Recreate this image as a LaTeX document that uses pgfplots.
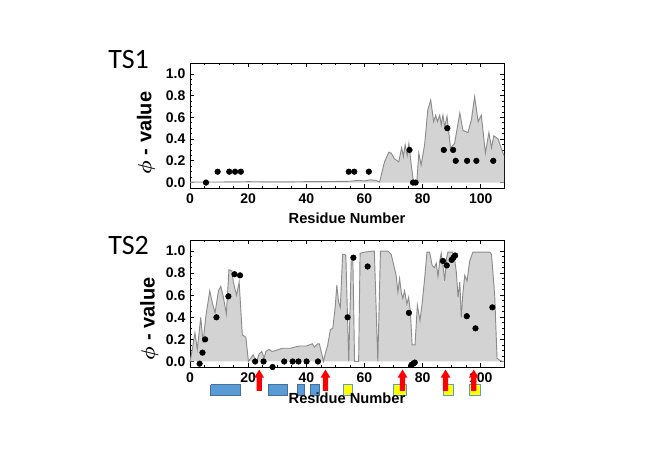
\documentclass[border=0pt]{standalone}
\usepackage{fontspec}
\setmainfont{Liberation Sans}
\newfontfamily\calibri{Carlito}
\usepackage{amsmath}
\usepackage{pgfplots}
\usepackage{pgfplotstable}
\pgfplotsset{compat=1.18}

\definecolor{fillgray}{RGB}{211,211,211}
\definecolor{linegray}{RGB}{140,140,140}
\definecolor{boxblue}{RGB}{91,155,213}
\definecolor{boxblueedge}{RGB}{65,113,156}
\definecolor{ylw}{RGB}{255,255,0}
\definecolor{arrowred}{RGB}{255,0,0}

\pgfplotstableread{
x y
0 0.005
10 0.005
20 0.008
30 0.006
40 0.008
50 0.010
55 0.012
58 0.020
60 0.015
62 0.025
64 0.020
65.2 0.005
66.9 0.19
68.4 0.28
69.2 0.27
70.3 0.22
71.8 0.19
72.8 0.32
73.4 0.24
74.0 0.35
74.7 0.25
75.3 0.36
76.1 0.16
76.9 0.0
78.0 0.0
78.7 0.27
79.5 0.16
80.7 0.35
81.8 0.67
82.8 0.76
83.8 0.56
84.5 0.62
85.1 0.56
85.9 0.62
86.4 0.53
87.0 0.62
87.6 0.51
88.4 0.61
89.6 0.32
91.0 0.36
92.8 0.64
93.9 0.48
95.6 0.46
96.8 0.58
97.9 0.79
99.1 0.56
100.2 0.62
101.6 0.27
102.8 0.46
103.7 0.32
104.5 0.43
106.0 0.40
107.5 0.28
108 0.25
}\tsonearea

\pgfplotstableread{
x y
5.5 0.0
9.5 0.1
13.5 0.1
15.5 0.1
17.5 0.1
54.6 0.1
56.5 0.1
61.5 0.1
75.5 0.3
76.7 0.0
77.6 0.0
87.3 0.3
88.5 0.5
90.5 0.3
91.4 0.2
95.3 0.2
98.5 0.2
104.3 0.2
}\tsonedots

\pgfplotstableread{
x y
0 0.0
0.6 0.08
1.7 0.26
2.5 0.11
3.7 0.40
4.5 0.17
5.4 0.40
6.8 0.64
7.7 0.53
8.6 0.44
9.8 0.64
10.6 0.68
11.5 0.58
12.5 0.43
13.4 0.83
14.4 0.82
14.9 0.72
16.0 0.60
16.9 0.72
18.0 0.24
19.2 0.22
20.1 0.0
20.9 0.03
21.7 0.06
22.9 0.0
23.8 0.07
24.7 0.09
25.5 0.03
26.1 0.09
27.2 0.11
28.3 0.09
29.5 0.10
31.8 0.12
34.5 0.12
37.6 0.14
40.0 0.14
42.1 0.16
42.8 0.13
43.9 0.16
44.5 0.16
45.4 0.06
45.9 0.0
46.6 0.08
47.3 0.14
48.3 0.29
49.1 0.30
49.9 0.48
50.5 0.69
51.1 0.54
51.7 0.49
52.5 0.97
53.3 0.97
53.6 0.96
54.6 0.0
55.5 0.95
56.0 0.95
56.6 0.0
58.0 0.0
58.5 0.98
60.0 0.99
62.9 1.0
63.4 1.0
64.6 0.0
65.5 1.0
68.0 1.0
69.2 0.97
70.9 0.78
71.5 0.63
72.1 0.75
72.7 0.62
73.2 0.57
73.8 0.64
74.6 0.52
75.2 0.58
75.8 0.45
76.4 0.15
77.4 0.15
78.2 0.51
79.1 0.37
79.9 0.54
80.7 0.75
81.5 0.99
82.4 0.99
83.3 0.87
84.1 0.85
84.7 0.89
85.3 0.77
85.9 0.91
86.4 0.98
87.0 0.87
87.6 0.73
88.2 0.93
88.7 0.99
90.2 0.99
91.0 0.93
91.6 0.81
92.2 0.58
92.8 0.72
93.3 0.40
93.9 0.63
94.5 0.78
95.3 0.73
96.2 0.91
97.3 0.99
103.1 0.99
103.7 0.97
104.8 0.60
105.6 0.03
106.6 0.01
107.6 0.0
108 0.0
}\tstwoarea

\pgfplotstableread{
x y
3.3 -0.02
4.3 0.08
5.2 0.20
9.1 0.40
13.2 0.59
15.3 0.79
17.2 0.78
22.4 0.0
25.3 0.0
28.4 -0.05
32.4 0.0
35.3 0.0
37.3 0.0
40.1 0.0
44.0 0.0
54.2 0.40
56.2 0.94
61.1 0.86
75.3 0.44
76.2 -0.03
76.8 -0.02
77.3 -0.01
87.0 0.91
88.3 0.87
90.0 0.92
90.6 0.94
91.2 0.96
95.2 0.41
98.2 0.30
104.0 0.49
}\tstwodots

\pgfplotsset{
  phistyle/.style={
    scale only axis, width=235.5pt,
    xmin=0, xmax=108, ymin=-0.05, ymax=1.1,
    xtick={0,20,40,60,80,100}, minor x tick num=3,
    ytick={0,0.2,0.4,0.6,0.8,1.0}, minor y tick num=3,
    tick align=inside, major tick length=3pt, minor tick length=1.6pt,
    tick style={black, line width=0.5pt},
    axis line style={black, line width=0.7pt},
    tick label style={font=\fontsize{10.5}{12}\selectfont\bfseries},
    /pgf/number format/assume math mode=true,
    yticklabel style={/pgf/number format/.cd, fixed, fixed zerofill, precision=1},
    xticklabel style={yshift=-1pt},
    xlabel={Residue Number},
    xlabel style={font=\fontsize{11}{13}\selectfont\bfseries, at={(axis description cs:0.5,-0.24)}, anchor=center},
    ylabel={$\boldsymbol{\phi}$ - value},
    ylabel style={font=\fontsize{15}{18}\selectfont\bfseries, anchor=center},
    clip=false,
    set layers,
  },
  boxb/.style={fill=boxblue, draw=boxblueedge, line width=0.4pt},
  boxy/.style={fill=ylw, draw=boxblue, line width=0.4pt},
  arr/.style={fill=arrowred, draw=none},
}

\begin{document}
\begin{tikzpicture}

% TS1
\begin{axis}[phistyle, height=93.75pt, at={(142.5pt,205.5pt)}, anchor=south west,
  ylabel style={at={(axis description cs:-0.14,0.44)}}]
\addplot[fill=fillgray, draw=none, forget plot] table {\tsonearea} \closedcycle;
\addplot[linegray, line width=0.7pt] table {\tsonearea};
\addplot[only marks, mark=*, mark size=2.1pt, black] table {\tsonedots};
\end{axis}

% TS2
\begin{axis}[phistyle, height=95.25pt, at={(142.5pt,71.25pt)}, anchor=south west,
  ylabel style={at={(axis description cs:-0.13,0.38)}},
  xlabel style={at={(axis description cs:0.5,-0.248)}}]
\addplot[fill=fillgray, draw=none, forget plot] table {\tstwoarea} \closedcycle;
\addplot[linegray, line width=0.7pt] table {\tstwoarea};
\addplot[only marks, mark=*, mark size=2.1pt, black] table {\tstwodots};
% secondary structure boxes
\addplot[boxb] coordinates {(7.1,-0.21) (17.2,-0.21) (17.2,-0.31) (7.1,-0.31) (7.1,-0.21)};
\addplot[boxb] coordinates {(26.9,-0.21) (33.4,-0.21) (33.4,-0.31) (26.9,-0.31) (26.9,-0.21)};
\addplot[boxb] coordinates {(36.9,-0.21) (39.3,-0.21) (39.3,-0.31) (36.9,-0.31) (36.9,-0.21)};
\addplot[boxb] coordinates {(41.4,-0.21) (44.5,-0.21) (44.5,-0.31) (41.4,-0.31) (41.4,-0.21)};
\addplot[boxy] coordinates {(52.8,-0.205) (55.9,-0.205) (55.9,-0.305) (52.8,-0.305) (52.8,-0.205)};
\addplot[boxy] coordinates {(70.0,-0.205) (74.5,-0.205) (74.5,-0.305) (70.0,-0.305) (70.0,-0.205)};
\addplot[boxy] coordinates {(87.2,-0.205) (90.7,-0.205) (90.7,-0.305) (87.2,-0.305) (87.2,-0.205)};
\addplot[boxy] coordinates {(95.9,-0.205) (100.0,-0.205) (100.0,-0.305) (95.9,-0.305) (95.9,-0.205)};
% red arrows
\addplot[arr] coordinates {(22.9,-0.266) (24.7,-0.266) (24.7,-0.147) (25.5,-0.147) (23.8,-0.073) (22.1,-0.147) (22.9,-0.147) (22.9,-0.266)};
\addplot[arr] coordinates {(45.7,-0.266) (47.5,-0.266) (47.5,-0.147) (48.3,-0.147) (46.6,-0.073) (44.9,-0.147) (45.7,-0.147) (45.7,-0.266)};
\addplot[arr] coordinates {(72.2,-0.266) (74.0,-0.266) (74.0,-0.147) (74.8,-0.147) (73.1,-0.073) (71.4,-0.147) (72.2,-0.147) (72.2,-0.266)};
\addplot[arr] coordinates {(87.0,-0.266) (88.8,-0.266) (88.8,-0.147) (89.6,-0.147) (87.9,-0.073) (86.2,-0.147) (87.0,-0.147) (87.0,-0.266)};
\addplot[arr] coordinates {(96.7,-0.266) (98.5,-0.266) (98.5,-0.147) (99.3,-0.147) (97.6,-0.073) (95.9,-0.147) (96.7,-0.147) (96.7,-0.266)};
\end{axis}

\node[anchor=base west, inner sep=0pt, font=\calibri\fontsize{21}{24}\selectfont] at (81pt,295.5pt) {TS1};
\node[anchor=base west, inner sep=0pt, font=\calibri\fontsize{21}{24}\selectfont] at (81pt,156pt) {TS2};
\path (0,0) rectangle (490.5pt,346.5pt);
\end{tikzpicture}
\end{document}
